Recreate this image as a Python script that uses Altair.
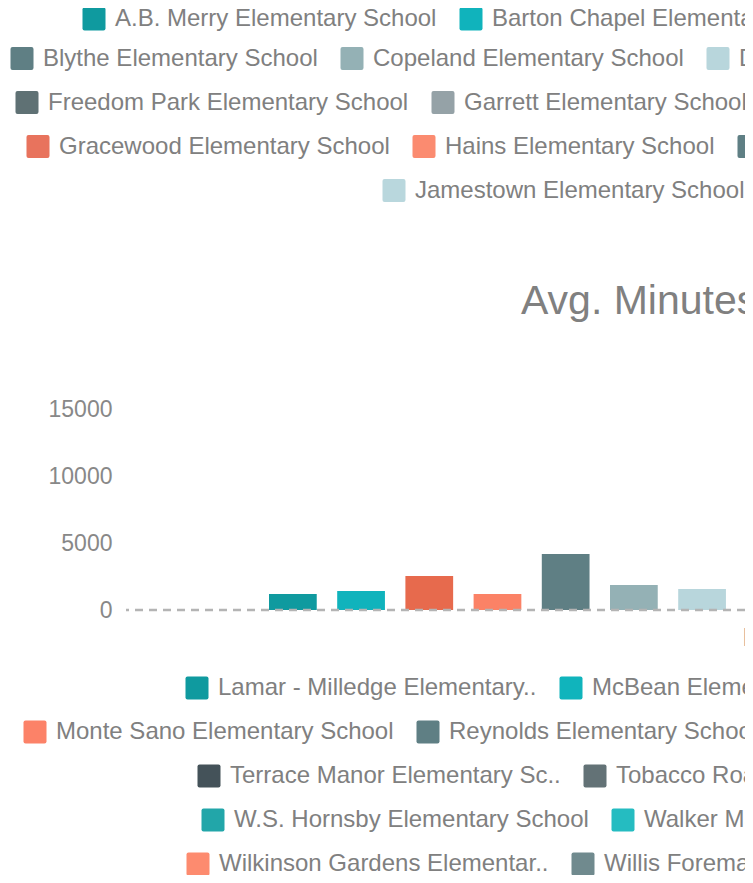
import altair as alt
import pandas as pd

# ---------------- data ----------------
bar_category = "ELA"
bar_schools = [
    "A.B. Merry Elementary School",
    "Barton Chapel Elementary School",
    "Bayvale Elementary School",
    "Belair K-8 School",
    "Blythe Elementary School",
    "Copeland Elementary School",
    "Deer Chase Elementary School",
    "Diamond Lakes Elementary School",
]
bar_minutes = [1200, 1420, 2540, 1200, 4180, 1870, 1570, 520]
y_ticks = [0, 5000, 10000, 15000]

top_legend_rows = [
    ["A.B. Merry Elementary School", "Barton Chapel Elementary School"],
    ["Blythe Elementary School", "Copeland Elementary School", "Deer Chase Elementary School"],
    ["Freedom Park Elementary School", "Garrett Elementary School"],
    ["Gracewood Elementary School", "Hains Elementary School", "Hephzibah Elementary School"],
    ["Jamestown Elementary School"],
]
bottom_legend_rows = [
    ["Lamar - Milledge Elementary..", "McBean Elementary School"],
    ["Monte Sano Elementary School", "Reynolds Elementary School"],
    ["Terrace Manor Elementary Sc..", "Tobacco Road Elementary School"],
    ["W.S. Hornsby Elementary School", "Walker Magnet Elementary School"],
    ["Wilkinson Gardens Elementar..", "Willis Foreman Elementary School"],
]

# ---------------- styles / layout ----------------
school_colors = {
    "A.B. Merry Elementary School": "#0f9a9f",
    "Barton Chapel Elementary School": "#10b3bc",
    "Bayvale Elementary School": "#e76a4d",
    "Belair K-8 School": "#fb8266",
    "Blythe Elementary School": "#5f7f84",
    "Copeland Elementary School": "#94b1b5",
    "Deer Chase Elementary School": "#b8d6dc",
    "Diamond Lakes Elementary School": "#46545a",
    "Freedom Park Elementary School": "#5f7174",
    "Garrett Elementary School": "#95a2a7",
    "Gracewood Elementary School": "#e8735d",
    "Hains Elementary School": "#fb8b70",
    "Hephzibah Elementary School": "#5f7f84",
    "Jamestown Elementary School": "#b9d7dd",
    "Lamar - Milledge Elementary..": "#0f9a9f",
    "McBean Elementary School": "#10b4bc",
    "Monte Sano Elementary School": "#fc8268",
    "Reynolds Elementary School": "#5f7f84",
    "Terrace Manor Elementary Sc..": "#445259",
    "Tobacco Road Elementary School": "#637276",
    "W.S. Hornsby Elementary School": "#22a6a9",
    "Walker Magnet Elementary School": "#25bcc1",
    "Wilkinson Gardens Elementar..": "#fd8b6f",
    "Willis Foreman Elementary School": "#708a8e",
}

top_row_x = [-44, -116, -111, -100, 256]
top_row_y = [-402, -362.5, -318.5, -274.5, -230.5]
bottom_row_x = [59, -103, 71, 75, 60]
bottom_row_y = [267, 311, 355, 399, 443]

GRAY = "#808080"
FONT = "Liberation Sans"
ROUND_SQ = ("M-0.82,-1H0.82Q1,-1 1,-0.82V0.82Q1,1 0.82,1H-0.82Q-1,1 -1,0.82"
            "V-0.82Q-1,-1 -0.82,-1Z")

VIEW_W, H = 619, 201          # visible plot area (page is 753 px wide)
CAT_RANGE = 1280              # full extent of the category band (runs past the edge)
GROUP_START, BAR_STEP = 143, 68.2

bars_df = pd.DataFrame({
    "category": [bar_category] * len(bar_schools),
    "school": bar_schools,
    "minutes": bar_minutes,
})
zero_df = pd.DataFrame({"minutes": [0]})

y_scale = alt.Scale(domain=[0, 15000])
y_axis = alt.Axis(title=None, values=y_ticks, format="d", domain=False, ticks=False,
                  grid=False, labelFontSize=23, labelColor="#888888", labelPadding=14,
                  labelFont=FONT)

bars = alt.Chart(bars_df).mark_bar().encode(
    x=alt.X("category:N",
            scale=alt.Scale(paddingInner=0, paddingOuter=0, range=[0, CAT_RANGE]),
            axis=alt.Axis(title=None, domain=False, ticks=False, tickSize=0, labelAngle=0,
                          labelFontSize=25, labelColor="#888888", labelPadding=15,
                          labelFont=FONT)),
    xOffset=alt.XOffset("school:N", scale=alt.Scale(
        domain=bar_schools, paddingInner=0.3, paddingOuter=0,
        range=[GROUP_START, GROUP_START + BAR_STEP * (len(bar_schools) - 0.3)])),
    y=alt.Y("minutes:Q", scale=y_scale, axis=y_axis),
    color=alt.Color("school:N",
                    scale=alt.Scale(domain=bar_schools,
                                    range=[school_colors[s] for s in bar_schools]),
                    legend=None),
)

zero_line = alt.Chart(zero_df).mark_rule(color="#b4b4b4", strokeWidth=2.5,
                                         strokeDash=[8, 6]).encode(
    y=alt.Y("minutes:Q", scale=y_scale, axis=y_axis)
)


def legend_layer(names, lx, ly):
    df = pd.DataFrame({"school": names})
    return alt.Chart(df).transform_filter("false").mark_square(filled=True).encode(
        color=alt.Color(
            "school:N",
            scale=alt.Scale(domain=names, range=[school_colors[n] for n in names]),
            legend=alt.Legend(
                orient="none", legendX=lx, legendY=ly, direction="horizontal",
                title=None, symbolType=ROUND_SQ, symbolSize=529, symbolStrokeWidth=0,
                symbolOpacity=1, labelFontSize=24, labelColor=GRAY, labelFont=FONT,
                labelOffset=9, columnPadding=22, labelLimit=2000, padding=0,
            ),
        )
    )


legend_layers = []
for names, lx, ly in zip(top_legend_rows, top_row_x, top_row_y):
    legend_layers.append(legend_layer(names, lx, ly))
for names, lx, ly in zip(bottom_legend_rows, bottom_row_x, bottom_row_y):
    legend_layers.append(legend_layer(names, lx, ly))

chart = (
    alt.layer(bars, zero_line, *legend_layers)
    .resolve_scale(color="independent")
    .properties(
        width=VIEW_W,
        height=H,
        title=alt.Title("Avg. Minutes Spent per Student", anchor="start", frame="group",
                        dx=395, offset=-348, baseline="alphabetic", fontSize=41,
                        color=GRAY, font=FONT, fontWeight="normal"),
        autosize=alt.AutoSizeParams(type="none"),
        padding={"left": 118, "top": 401, "right": 0, "bottom": 265},
        background="white",
    )
    .configure(font=FONT)
    .configure_view(stroke=None)
)

chart.save("out.html", embed_options={"renderer": "svg", "actions": False})
